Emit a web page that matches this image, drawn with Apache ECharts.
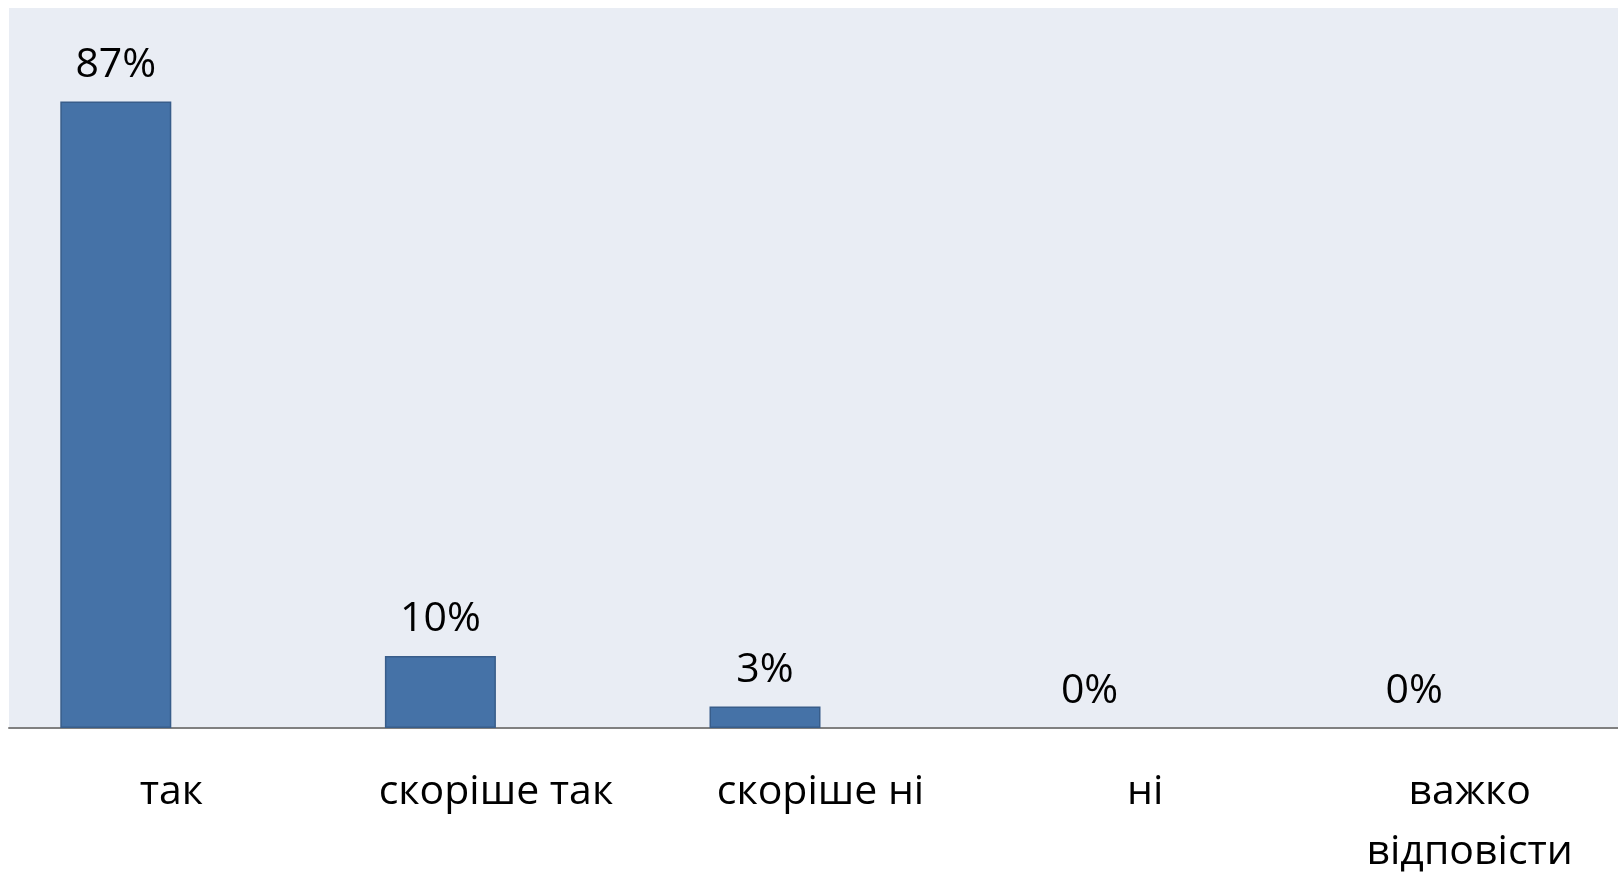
<!DOCTYPE html>
<html><head><meta charset="utf-8">
<script src="https://cdn.jsdelivr.net/npm/echarts@6/dist/echarts.min.js"></script>
<style>html,body{margin:0;padding:0;background:#fff;overflow:hidden;width:1618px;height:872px}#c{width:1650px;height:872px}</style>
</head><body><div id="c"></div>
<script>
const categories = ['так', 'скоріше так', 'скоріше ні', 'ні', 'важко\nвідповісти'];
const values = [87, 10, 3, 0, 0];
const emptySeries = [null, null, null, null, null];

const chart = echarts.init(document.getElementById('c'));
chart.setOption({
  animation: false,
  grid: { left: 9, top: 8, width: 1623, height: 720, backgroundColor: '#E9EDF4', show: true, borderWidth: 0,
          containLabel: false, outerBoundsMode: 'none' },
  xAxis: {
    type: 'category', data: categories,
    axisLine: { lineStyle: { color: '#808080', width: 2 } },
    axisTick: { show: false },
    axisLabel: { color: '#000', fontFamily: 'Open Sans', fontSize: 41, margin: 34, lineHeight: 60, interval: 0 }
  },
  yAxis: { type: 'value', min: 0, max: 100, show: false, splitLine: { show: false } },
  series: [
    { type: 'bar', barWidth: 111, barGap: '0%',
      data: values.map(v => ({ value: v, itemStyle: { borderWidth: v > 0 ? 1.5 : 0 } })),
      itemStyle: { color: '#4572A7', borderColor: '#385D8A', borderWidth: 1.5 },
      label: { show: true, position: 'top', distance: 16, formatter: '{c}%', color: '#000', fontFamily: 'Open Sans', fontSize: 41 } },
    { type: 'bar', data: emptySeries, barWidth: 111, barGap: '0%' }
  ]
});
</script></body></html>
